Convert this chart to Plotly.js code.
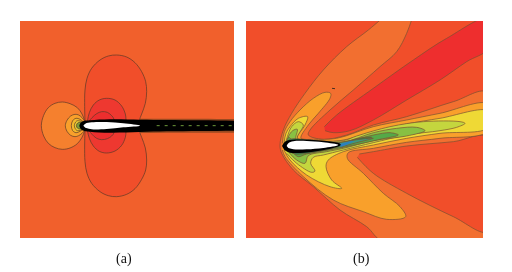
<!DOCTYPE html>
<html><head><meta charset="utf-8">
<script src="https://cdn.plot.ly/plotly-3.0.1.min.js"></script>
<style>html,body{margin:0;padding:0;background:#fff}#plot{width:512px;height:272px;filter:blur(0.3px)}</style>
</head><body><div id="plot"></div>
<script>
// Panel (a) contour regions
const aLobeX=[255,254,255,261,275,300,325,350,380,405,425,437,440,436,425,418,418,425,436,440,437,425,405,380,350,325,300,275,261,255,254,255];
const aLobeY=[335,290,240,205,175,150,138,135,141,158,185,215,245,280,312,332,362,382,414,450,480,508,536,553,560,557,545,520,490,455,405,360];
const aMidX=[262,268,280,298,320,345,365,376,378,378,376,365,345,320,298,280,268,262];
const aMidY=[335,308,285,270,265,270,288,312,330,365,382,406,423,429,424,408,385,360];
const aInnerX=[266,276,290,305,322,335,342,342,335,322,305,290,276,266];
const aInnerY=[335,323,311,305,307,317,328,368,378,386,389,385,373,360];
const aCircle1X=[255,246,232,210,187,165,145,131,124,131,145,165,187,210,232,246,255];
const aCircle1Y=[335,312,293,281,276,280,293,316,347,378,400,413,418,414,401,382,360];
const aCircle2X=[255,246,236,225,212,201,196,201,212,225,236,246,255];
const aCircle2Y=[335,323,315,313,318,331,347,364,376,380,377,370,360];
const aCircle3X=[250,240,228,218,214,218,228,240,250];
const aCircle3Y=[336,328,325,332,347,362,368,364,358];
const aCircle4X=[250,240,230,223,230,240,250];
const aCircle4Y=[338,333,333,347,361,361,356];
const aCircle5X=[250,240,233,229,233,240,250];
const aCircle5Y=[340,337,339,347,355,357,354];
const aHaloX=[420,500,600,702,780,780,702,600,500,420];
const aHaloY=[326,326,326,327,327,368,368,368,368,369];
const aWakeX=[238,246,270,330,420,500,600,702,780,780,702,600,500,420,330,270,246,238];
const aWakeY=[347,335,331,328,329,330,331,332,332,362,362,363,364,366,368,365,360,347];
const aFoilX=[250,256,275,320,370,420,370,320,275,256];
const aFoilY=[347,341,337,336,340,347,352,357,358,353];
const aSpeckX=[470,520,560,590,620,660,690,702];
const aSpeckY=[347,347,347,347,347,347,347,347];

// Panel (b) contour regions
const bOrangeX=[432,385,320,250,195,155,130,120,125,160,220,300,380,430,745,745,640,500,400,320,250,205,210,270,340,420,470,500,518];
const bOrangeY=[20,60,110,180,250,310,360,405,430,480,530,600,650,695,695,248,275,320,345,375,388,375,360,300,240,170,125,70,20];
const bWedgeX=[352,400,500,640,745,745,640,500,400,358];
const bWedgeY=[442,490,550,620,665,382,395,408,425,432];
const bRedX=[253,290,400,520,620,745,745,680,600,500,400,330,280,255];
const bRedY=[350,315,235,150,85,25,115,155,210,270,330,362,368,362];
const bLightX=[127,133,150,180,220,255,272,270,235,205,183,220,290,400,500,600,745,745,600,500,400,325,322,370,430,480,497,440,370,280,190,135,127];
const bLightY=[400,365,335,300,265,247,250,265,310,345,385,388,385,350,330,310,282,363,385,397,415,428,445,490,550,590,620,628,605,570,500,440,420];
const bYellowX=[132,138,150,175,203,195,172,220,300,400,500,600,745,745,600,500,400,310,265,258,275,305,270,200,150,132];
const bYellowY=[400,370,350,325,320,345,385,392,392,365,342,325,303,353,370,385,405,425,450,470,510,535,530,495,450,420];
const bLimeX=[137,142,155,175,190,172,220,310,350,450,550,660,675,650,600,500,400,310,250,220,212,225,215,170,140];
const bLimeY=[400,380,350,335,345,385,392,392,378,350,335,335,340,352,362,375,398,420,435,442,460,483,487,460,430];
const bGreenX=[138,146,158,172,168,220,310,400,470,530,555,500,400,310,260,205,195,170,145];
const bGreenY=[402,378,362,358,390,394,396,368,355,352,362,378,392,415,425,437,460,450,425];
const bDarkX=[138,146,160,300,400,450,475,420,310,200,175,160,143];
const bDarkY=[402,382,392,398,375,368,375,388,412,432,440,430,420];
const bDeepX=[135,150,300,360,395,350,300,200,165,145];
const bDeepY=[402,388,398,384,382,396,410,430,432,422];
const bTealX=[298,360,400,350,300];
const bTealY=[398,388,385,398,412];
const bBlueX=[290,325,342,305];
const bBlueY=[405,395,393,410];
const bHullX=[126,132,145,220,298,302,290,220,150,133];
const bHullY=[408,398,391,390,400,405,411,425,428,420];
const bFoilX=[140,145,160,200,250,295,250,200,160,145];
const bFoilY=[408,400,394,393,397,405,414,418,418,414];
const bSpeckX=[276,285];
const bSpeckY=[235,236];

const captions=['(a)','(b)'];
const lineDark='#5b3a26';
const lineSoft='#7a5030';

function region(x,y,fill,axis,outline){
  return {type:'scatter',mode:'lines',x:x,y:y,fill:'toself',fillcolor:fill,hoverinfo:'skip',
    xaxis:'x'+axis,yaxis:'y'+axis,
    line:{shape:'spline',smoothing:1.0,color:outline===false?fill:(axis?lineSoft:lineDark),width:outline===false?0:0.7}};
}
const traces=[
  region(aLobeX,aLobeY,'#F14E2A',''),
  region(aMidX,aMidY,'#EE3830',''),
  region(aInnerX,aInnerY,'#EC2E2E',''),
  region(aCircle1X,aCircle1Y,'#F5802E',''),
  region(aCircle2X,aCircle2Y,'#F9A02B',''),
  region(aCircle3X,aCircle3Y,'#F4B82C',''),
  region(aCircle4X,aCircle4Y,'#E8D035',''),
  region(aCircle5X,aCircle5Y,'#7A9A3A',''),
  region(aHaloX,aHaloY,'#9A4A20','',false),
  region(aWakeX,aWakeY,'#000000','',false),
  region(aFoilX,aFoilY,'#FFFFFF','',false),
  {type:'scatter',mode:'lines',x:aSpeckX,y:aSpeckY,hoverinfo:'skip',line:{color:'#6E9A3A',width:1,dash:'3px,5px'}},
  region(bOrangeX,bOrangeY,'#F26F30','2'),
  region(bWedgeX,bWedgeY,'#F14E2A','2'),
  region(bRedX,bRedY,'#EE2E2E','2'),
  region(bLightX,bLightY,'#F9A02B','2'),
  region(bYellowX,bYellowY,'#EFD935','2'),
  region(bLimeX,bLimeY,'#C4D63E','2'),
  region(bGreenX,bGreenY,'#88C043','2'),
  region(bDarkX,bDarkY,'#55A948','2'),
  region(bDeepX,bDeepY,'#2F7F50','2'),
  region(bTealX,bTealY,'#3E9A7A','2'),
  region(bBlueX,bBlueY,'#2B80C0','2',false),
  region(bHullX,bHullY,'#000000','2',false),
  region(bFoilX,bFoilY,'#FFFFFF','2',false),
  {type:'scatter',mode:'lines',x:bSpeckX,y:bSpeckY,xaxis:'x2',yaxis:'y2',hoverinfo:'skip',line:{color:'#4a3020',width:1}}
];
const hidden={showgrid:false,zeroline:false,showticklabels:false,ticks:'',showline:false,fixedrange:true};
const layout={
  width:512,height:272,margin:{l:0,r:0,t:0,b:0},showlegend:false,paper_bgcolor:'#fff',plot_bgcolor:'#F1602C',
  xaxis:Object.assign({domain:[20/512,234/512],range:[60,702]},hidden),
  yaxis:Object.assign({domain:[34/272,251/272],range:[684,33]},hidden),
  xaxis2:Object.assign({domain:[246/512,483/512],range:[18,729],anchor:'y2'},hidden),
  yaxis2:Object.assign({domain:[34/272,251/272],range:[684,33],anchor:'x2'},hidden),
  shapes:[{type:'rect',xref:'x2',yref:'y2',x0:18,x1:729,y0:33,y1:684,fillcolor:'#F14E2A',line:{width:0},layer:'below'}],
  annotations:[
    {text:captions[0],xref:'paper',yref:'paper',x:123.5/512,y:1-259/272,showarrow:false,xanchor:'center',yanchor:'middle',font:{family:'Liberation Serif',size:14,color:'#111'}},
    {text:captions[1],xref:'paper',yref:'paper',x:361/512,y:1-259/272,showarrow:false,xanchor:'center',yanchor:'middle',font:{family:'Liberation Serif',size:14,color:'#111'}}
  ]
};
Plotly.newPlot('plot',traces,layout,{displayModeBar:false,staticPlot:true});
</script></body></html>
